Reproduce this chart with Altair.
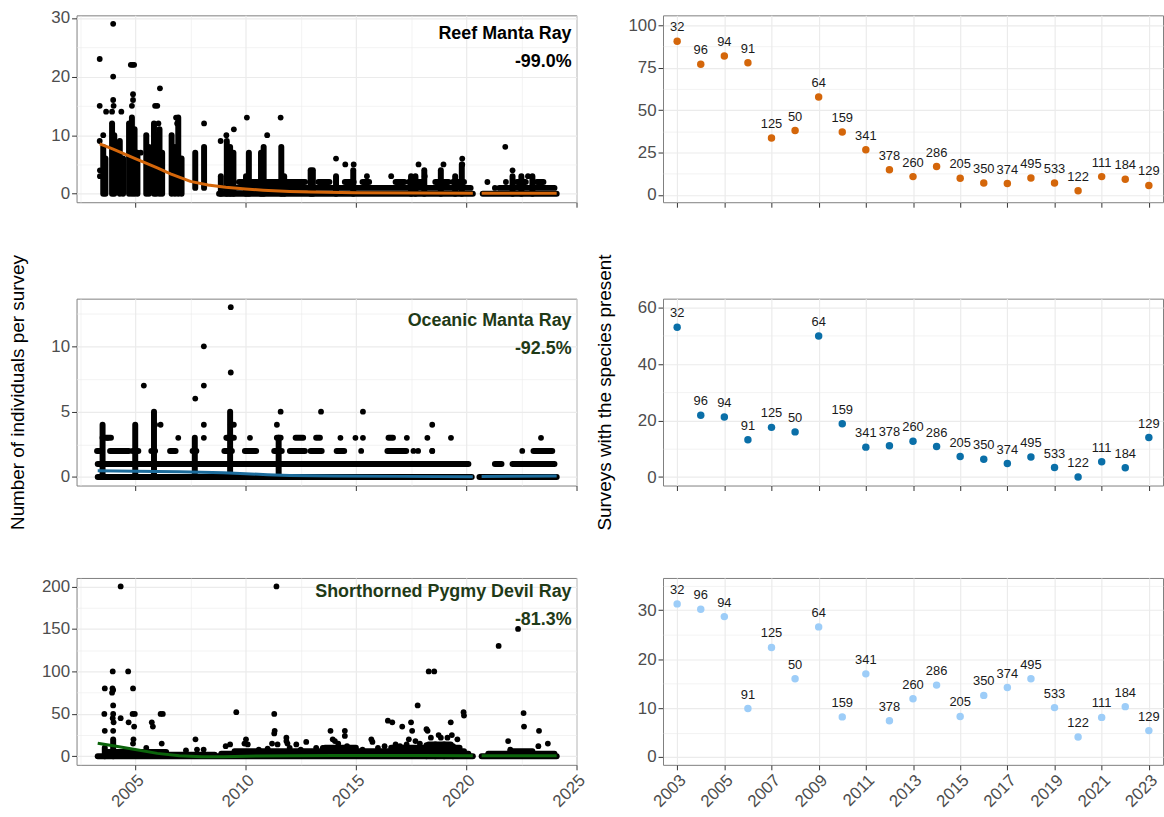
import altair as alt
import pandas as pd

FONT = "Liberation Sans"
W, H = 503, 188

# ---------------- right column: % of surveys with species present ----------------
years = list(range(2003, 2024))
n_surveys = [32, 96, 94, 91, 125, 50, 64, 159, 341, 378, 260, 286, 205, 350, 374, 495, 533, 122, 111, 184, 129]
reef_pct = [90.6, 77.1, 81.9, 78.0, 33.6, 38.0, 57.8, 37.1, 26.7, 14.8, 10.8, 16.8, 9.8, 7.0, 6.7, 10.0, 7.0, 2.5, 10.8, 9.2, 5.6]
oceanic_pct = [53.1, 21.9, 21.3, 13.2, 17.6, 16.0, 50.0, 18.9, 10.6, 11.1, 12.7, 10.8, 7.3, 6.3, 4.8, 7.1, 3.4, 0.0, 5.4, 3.3, 14.0]
pygmy_pct = [31.3, 30.2, 28.7, 9.9, 22.4, 16.0, 26.6, 8.2, 17.0, 7.4, 11.9, 14.7, 8.3, 12.6, 14.2, 16.0, 10.1, 4.1, 8.1, 10.3, 5.4]

# ---------------- left column: individuals per survey ----------------
# dense vertical stacks of dots: x (decimal year), lowest count, highest count
reef_col_x = [2003.55, 2003.65, 2003.95, 2004.05, 2004.3, 2004.45, 2004.72, 2004.85, 2004.97, 2005.1, 2005.5, 2005.62,
              2005.85, 2005.95, 2006.1, 2006.22, 2006.65, 2006.8, 2006.95, 2007.1, 2007.72, 2008.12, 2008.88, 2009.15,
              2009.3, 2009.45, 2010.02, 2010.15, 2010.7, 2010.82, 2011.62, 2011.75, 2012.95, 2013.05, 2014.1, 2014.88,
              2017.5, 2017.7, 2018.1, 2018.85, 2019.5, 2019.8, 2022.1, 2022.5, 2023.0]
reef_col_lo = [0] * 20 + [1, 1] + [0] * 23
reef_col_hi = [8, 6, 12, 10, 9, 6, 12, 13, 11, 7, 10, 8, 12, 10, 11, 7, 10, 8, 13, 6, 7, 8, 3, 9, 8, 7, 3, 7, 7, 8, 8,
               3, 4, 4, 3, 4, 3, 3, 4, 4, 3, 5, 3, 3, 3]
# dense horizontal rows of dots: start year, end year, count
reef_row_x1 = [2008.8, 2008.9, 2009.7, 2013.3, 2014.5, 2015.3, 2016.8, 2017.4, 2018.6, 2019.4, 2020.75, 2021.5, 2022.3, 2023.2]
reef_row_x2 = [2020.3, 2020.2, 2012.7, 2013.8, 2014.9, 2015.6, 2017.2, 2018.0, 2019.2, 2019.9, 2024.1, 2024.0, 2022.7, 2023.5]
reef_row_y = [0, 1, 2, 2, 2, 2, 2, 2, 2, 2, 0, 1, 2, 2]
# single dots
reef_pt_x = [2003.39, 2003.39, 2003.39, 2003.4, 2003.4, 2003.68, 2003.55, 2004.0, 2004.0, 2004.0, 2004.02, 2003.95, 2004.37,
             2004.8, 2004.88, 2004.95, 2004.9, 2004.9, 2004.85, 2005.25, 2005.9, 2006.0, 2006.12, 2006.05, 2006.85, 2006.9,
             2008.12, 2008.87, 2009.13, 2009.47, 2010.06, 2010.98, 2011.59, 2014.1, 2014.52, 2014.9, 2015.5, 2016.6,
             2017.84, 2018.12, 2018.97, 2019.82, 2019.82, 2020.96, 2021.77, 2022.1, 2022.8, 2023.3, 2021.3, 2021.8]
reef_pt_y = [23, 15, 9, 4, 3, 14, 10, 29, 20, 16, 15, 14, 14, 22, 22, 22, 17, 16, 15, 7, 15, 15, 18, 12, 13, 12,
             12, 9, 10, 11, 13, 10, 13, 6, 5, 5, 3, 3, 5, 3, 5, 6, 5, 2, 8, 4, 3, 2, 1, 2]
reef_fit_x = [2003.39, 2004.0, 2005.0, 2006.0, 2006.6, 2007.5, 2008.3, 2009.1, 2010.0, 2010.8, 2012.0, 2013.0, 2015.0,
              2020.3, 2020.7, 2024.1]
reef_fit_y = [8.5, 7.6, 6.0, 4.4, 3.4, 2.1, 1.5, 1.1, 0.8, 0.6, 0.4, 0.28, 0.15, 0.1, 0.1, 0.1]
reef_fit_seg = [1] * 14 + [2, 2]

oce_col_x = [2003.52, 2005.0, 2005.85, 2007.7, 2009.3, 2011.5]
oce_col_lo = [0, 0, 0, 0, 0, 0]
oce_col_hi = [4, 4, 5, 3, 5, 3]
oce_row_x1 = [2003.3, 2020.6, 2003.3, 2021.3, 2022.1, 2003.27, 2003.86, 2004.88, 2005.73, 2006.58, 2007.6, 2009.04,
              2009.97, 2011.3, 2012.01, 2012.95, 2014.13, 2016.43, 2023.05, 2003.52, 2009.13, 2011.42, 2012.27,
              2013.2, 2016.48]
oce_row_x2 = [2020.25, 2024.1, 2020.1, 2021.6, 2024.0, 2003.44, 2004.71, 2005.14, 2005.9, 2006.83, 2007.77, 2009.38,
              2010.48, 2011.64, 2012.69, 2013.45, 2014.47, 2017.28, 2023.9, 2003.9, 2009.47, 2011.59, 2012.61,
              2013.37, 2016.68]
oce_row_y = [0, 0, 1, 1, 1, 2, 2, 2, 2, 2, 2, 2, 2, 2, 2, 2, 2, 2, 2, 3, 3, 3, 3, 3, 3]
oce_pt_x = [2003.74, 2005.9, 2006.15, 2006.95, 2008.11, 2008.11, 2008.11, 2008.11, 2010.2, 2014.3, 2014.98, 2015.24,
            2015.32, 2015.32, 2017.31, 2017.61, 2017.82, 2018.24, 2018.46, 2018.46, 2018.46, 2019.31, 2022.54,
            2023.39, 2007.72, 2005.39, 2009.33, 2009.33, 2009.33, 2013.42, 2009.18, 2009.47, 2011.59, 2011.42]
oce_pt_y = [3, 4, 4, 3, 3, 4, 7, 10, 3, 3, 3, 2, 3, 5, 3, 2, 2, 3, 2, 4, 2, 3, 2, 3, 6, 7, 8, 13, 4, 5, 3, 4, 5, 4]
oce_fit_x = [2003.3, 2005.0, 2007.0, 2009.0, 2010.0, 2011.0, 2012.0, 2014.0, 2017.0, 2020.3, 2020.7, 2024.1]
oce_fit_y = [0.48, 0.45, 0.4, 0.32, 0.25, 0.18, 0.12, 0.07, 0.05, 0.03, 0.04, 0.08]
oce_fit_seg = [1] * 10 + [2, 2]

pyg_col_x = [2003.62, 2004.0, 2018.2, 2018.6, 2019.0, 2019.4]
pyg_col_lo = [0, 0, 0, 0, 0, 0]
pyg_col_hi = [10, 20, 13, 14, 14, 12]
pyg_row_x1 = [2003.3, 2003.7, 2006.4, 2008.9, 2009.5, 2013.6, 2016.6, 2018.3, 2020.7, 2021.0, 2022.0]
pyg_row_x2 = [2020.3, 2006.4, 2008.6, 2020.1, 2019.9, 2015.0, 2019.7, 2019.3, 2024.1, 2024.0, 2023.0]
pyg_row_y = [0, 5, 2, 3, 6, 10, 10, 14, 0, 3, 6]
pyg_pt_x = [2003.62, 2003.6, 2003.62, 2003.98, 2003.97, 2003.95, 2004.0, 2004.0, 2004.0, 2003.98, 2004.02, 2004.0,
            2004.34, 2004.34, 2004.68, 2004.7, 2004.9, 2004.88, 2004.98, 2004.95, 2004.92, 2004.9, 2005.75, 2005.8,
            2006.15, 2006.25, 2006.2, 2005.5, 2007.73, 2007.8, 2008.1, 2007.3, 2009.58, 2009.3, 2009.1, 2010.02,
            2009.95, 2010.1, 2011.3, 2011.32, 2011.3, 2011.4, 2011.45, 2011.2, 2011.85, 2011.85, 2011.9, 2012.3,
            2012.75, 2013.2, 2013.85, 2013.95, 2014.05, 2014.2, 2014.5, 2014.5, 2014.6, 2015.7, 2015.75, 2016.45,
            2016.65, 2016.8, 2017.1, 2017.5, 2017.55, 2017.4, 2017.8, 2017.7, 2017.9, 2018.2, 2018.25, 2018.3,
            2018.55, 2018.4, 2018.75, 2018.85, 2019.15, 2019.3, 2019.35, 2019.6, 2019.88, 2019.9, 2021.47, 2021.9,
            2022.35, 2022.6, 2022.62, 2023.3, 2023.27, 2023.7, 2022.0, 2010.6, 2011.0, 2012.0, 2012.5, 2013.5,
            2014.9, 2015.3, 2016.0, 2016.3, 2017.0, 2017.3]
pyg_pt_y = [80, 50, 30, 100, 80, 75, 78, 60, 50, 45, 40, 30, 200, 45, 100, 40, 80, 50, 50, 35, 20, 15, 40, 35,
            50, 50, 15, 10, 20, 8, 8, 7, 52, 14, 12, 20, 15, 14, 50, 30, 27, 200, 14, 15, 22, 18, 15, 14,
            17, 10, 30, 20, 18, 15, 30, 24, 12, 20, 17, 42, 40, 14, 35, 40, 30, 20, 60, 18, 15, 32, 30, 100,
            100, 22, 25, 22, 22, 40, 25, 20, 52, 48, 130, 18, 150, 51, 35, 30, 12, 15, 8, 8, 9, 10, 8, 10,
            10, 8, 10, 12, 12, 14]
pyg_fit_x = [2003.3, 2004.0, 2005.0, 2006.0, 2007.0, 2008.0, 2009.0, 2010.0, 2012.0, 2014.0, 2016.0, 2018.0, 2020.3,
             2020.7, 2024.1]
pyg_fit_y = [15.5, 12.5, 8.0, 3.5, 0.8, -0.5, -0.5, 0.2, 0.8, 1.0, 1.0, 1.0, 0.8, 0.8, 0.8]
pyg_fit_seg = [1] * 13 + [2, 2]


def cond(test, a, b):
    return {"condition": {"test": test, "value": a}, "value": b}


def make_axis(values, major, show_labels, title, fmt=None, angle=0):
    kw = dict(values=values, grid=True, gridColor="#EBEBEB",
              gridWidth=cond(major, 1.2, 0.6),
              tickOpacity=cond(major, 1, 0),
              labels=show_labels, labelExpr=f"({major}) ? datum.label : ''",
              title=title, labelFlush=False, labelOverlap=False)
    if fmt:
        kw["format"] = fmt
    if angle:
        kw.update(labelAngle=angle, labelAlign="right", labelBaseline="top")
    return alt.Axis(**kw)


LEFT_XDOM = [2002.34, 2025.0]
LEFT_XVALS = [2002.5, 2005, 2007.5, 2010, 2012.5, 2015, 2017.5, 2020, 2022.5, 2025]


def left_panel(col_x, col_lo, col_hi, row_x1, row_x2, row_y, pt_x, pt_y, fit_x, fit_y, fit_seg,
               ydom, yvals, ymajor, name, pct, tcolor, lcolor, bottom, ytitle, text_y):
    xaxis = make_axis(LEFT_XVALS, "datum.value % 5 === 0", bottom, None, fmt="d", angle=-45)
    yaxis = make_axis(yvals, ymajor, True, ytitle)
    xs = alt.Scale(domain=LEFT_XDOM, nice=False, zero=False)
    ys = alt.Scale(domain=ydom, nice=False, zero=False)

    segs = pd.DataFrame(
        [dict(x=x, x2=x, y=lo, y2=hi) for x, lo, hi in zip(col_x, col_lo, col_hi)]
        + [dict(x=a, x2=b, y=y, y2=y) for a, b, y in zip(row_x1, row_x2, row_y)])
    pts = pd.DataFrame({"x": pt_x, "y": pt_y})
    fit = pd.DataFrame({"x": fit_x, "y": fit_y, "seg": fit_seg})

    rules = alt.Chart(segs).mark_rule(color="black", strokeWidth=6, strokeCap="round").encode(
        x=alt.X("x:Q", scale=xs, axis=xaxis), x2="x2:Q",
        y=alt.Y("y:Q", scale=ys, axis=yaxis), y2="y2:Q")
    dots = alt.Chart(pts).mark_circle(color="black", opacity=1, size=34).encode(
        x=alt.X("x:Q", scale=xs, axis=xaxis), y=alt.Y("y:Q", scale=ys, axis=yaxis))
    line = alt.Chart(fit).mark_line(color=lcolor, strokeWidth=3).encode(
        x=alt.X("x:Q", scale=xs, axis=xaxis), y=alt.Y("y:Q", scale=ys, axis=yaxis), detail="seg:N")
    ann = alt.Chart(pd.DataFrame({"a": [0]})).mark_text(
        text=[name, pct], align="right", baseline="middle", font=FONT, fontSize=18, fontWeight="bold",
        color=tcolor, lineHeight=28).encode(x=alt.value(W - 5), y=alt.value(text_y))
    return alt.layer(rules, dots, line, ann).properties(width=W, height=H)


RIGHT_XDOM = [2002.4, 2023.6]
RIGHT_XVALS = list(range(2003, 2024, 2))


def right_panel(pct, color, ydom, yvals, ymajor, bottom, ytitle):
    df = pd.DataFrame({"year": years, "pct": pct, "n": n_surveys})
    xaxis = make_axis(RIGHT_XVALS, "true", bottom, None, fmt="d", angle=-45)
    yaxis = make_axis(yvals, ymajor, True, ytitle)
    xs = alt.Scale(domain=RIGHT_XDOM, nice=False, zero=False)
    ys = alt.Scale(domain=ydom, nice=False, zero=False)
    base = alt.Chart(df).encode(x=alt.X("year:Q", scale=xs, axis=xaxis),
                                y=alt.Y("pct:Q", scale=ys, axis=yaxis))
    pts = base.mark_circle(color=color, opacity=1, size=56)
    txt = base.mark_text(dy=-14, font=FONT, fontSize=13, color="#1a1a1a").encode(text="n:Q")
    return alt.layer(pts, txt).properties(width=W, height=H)


DKGREEN = "#1F3A17"
TL = left_panel(reef_col_x, reef_col_lo, reef_col_hi, reef_row_x1, reef_row_x2, reef_row_y, reef_pt_x, reef_pt_y,
                reef_fit_x, reef_fit_y, reef_fit_seg, [-1.45, 30.45], [0, 5, 10, 15, 20, 25, 30],
                "datum.value % 10 === 0", "Reef Manta Ray", "-99.0%", "#000000", "#D4660A", False, None, 19)
ML = left_panel(oce_col_x, oce_col_lo, oce_col_hi, oce_row_x1, oce_row_x2, oce_row_y, oce_pt_x, oce_pt_y,
                oce_fit_x, oce_fit_y, oce_fit_seg, [-0.65, 13.65], [0, 2.5, 5, 7.5, 10, 12.5],
                "datum.value % 5 === 0", "Oceanic Manta Ray", "-92.5%", DKGREEN, "#1C6C9C", False,
                "Number of individuals per survey", 23)
BL = left_panel(pyg_col_x, pyg_col_lo, pyg_col_hi, pyg_row_x1, pyg_row_x2, pyg_row_y, pyg_pt_x, pyg_pt_y,
                pyg_fit_x, pyg_fit_y, pyg_fit_seg, [-10, 210], [0, 25, 50, 75, 100, 125, 150, 175, 200],
                "datum.value % 50 === 0", "Shorthorned Pygmy Devil Ray", "-81.3%", DKGREEN, "#0B640B", True, None, 14)

TR = right_panel(reef_pct, "#D4660A", [-4.3, 105.9], [0, 12.5, 25, 37.5, 50, 62.5, 75, 87.5, 100],
                 "datum.value % 25 === 0", False, None)
MR = right_panel(oceanic_pct, "#0A6FA8", [-3.0, 63.2], [0, 10, 20, 30, 40, 50, 60],
                 "datum.value % 20 === 0", False, "Surveys with the species present")
BR = right_panel(pygmy_pct, "#9DCDF8", [-1.6, 36.6], [0, 5, 10, 15, 20, 25, 30, 35],
                 "datum.value % 10 === 0", True, None)

chart = alt.concat(TL, TR, ML, MR, BL, BR, columns=2, align="each",
                   spacing={"row": 45, "column": 6}).properties(
    padding={"left": 8, "top": 6, "right": 0, "bottom": 0}
).configure_view(stroke="#7f7f7f", strokeWidth=1).configure_axis(
    domain=False, tickColor="#333333", tickSize=5, tickWidth=1, labelPadding=2,
    labelFont=FONT, labelFontSize=17, labelColor="#4d4d4d",
    titleFont=FONT, titleFontSize=19, titleFontWeight="normal", titleColor="#000000", titlePadding=16
).configure_axisY(titlePadding=23)

chart.save("out.html", embed_options={"renderer": "svg", "actions": False})
